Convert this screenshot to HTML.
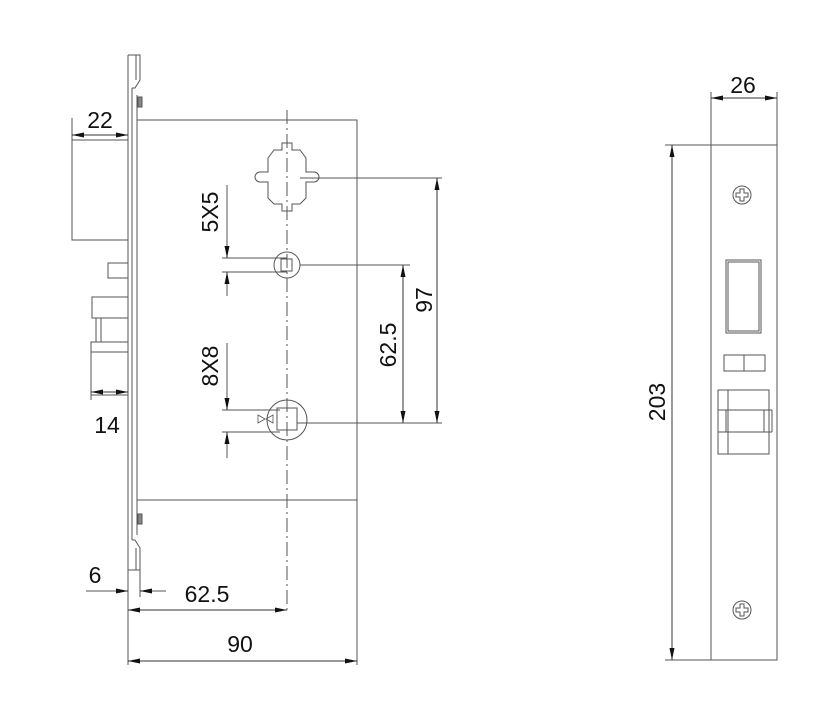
<!DOCTYPE html>
<html><head><style>html,body{margin:0;padding:0;background:#fff}svg{display:block}</style></head>
<body>
<svg width="824" height="711" viewBox="0 0 824 711" xmlns="http://www.w3.org/2000/svg" font-family="Liberation Sans, sans-serif" font-size="23" fill="none">
<defs>
<marker id="a" viewBox="0 0 12 6" refX="12" refY="3" markerWidth="12" markerHeight="6" orient="auto-start-reverse" markerUnits="userSpaceOnUse"><path d="M0,0.5 L12,3 L0,5.5 z" fill="#111"/></marker>
</defs>
<g stroke="#555" stroke-width="1">
<line x1="128" y1="55" x2="128" y2="570"/>
<line x1="132" y1="88" x2="132" y2="540"/>
<path d="M128,55 H140 V80 L135,88 H132"/>
<path d="M132,540 H135 L140,548 V570 H128"/>
<line x1="136" y1="55" x2="136" y2="80"/>
<line x1="136" y1="548" x2="136" y2="570"/>
<line x1="137" y1="95" x2="137" y2="535"/>
<rect x="138" y="97" width="4" height="10" fill="#888"/>
<rect x="138" y="514" width="4" height="10" fill="#888"/>
<rect x="137" y="120" width="220" height="380"/>
<rect x="72" y="140" width="56" height="100"/>
<rect x="108" y="263" width="20" height="15"/>
<rect x="92" y="297" width="36" height="21"/>
<line x1="96" y1="318" x2="96" y2="342"/><line x1="101" y1="318" x2="101" y2="342"/>
<rect x="91" y="342" width="37" height="53"/>
<line x1="91" y1="352" x2="128" y2="352"/>
<line x1="287" y1="110" x2="287" y2="612" stroke-dasharray="14,4,2,4"/>
<path d="M282,143 H292 V150 H300 L306,158 V172 H314 A4,4 0 0 1 314,182 H306 V198 L300,204 H292 V211 H282 V204 H274 L268,198 V182 H260 A4,4 0 0 1 260,172 H268 V158 L274,150 H282 Z"/>
<circle cx="287" cy="265" r="13"/>
<rect x="281" y="259" width="11" height="12"/>
<circle cx="287" cy="420" r="20"/>
<rect x="277" y="408" width="20" height="22"/>
<path d="M258,415 L265,419 L258,423 Z M273,415 L266,419 L273,423 Z" stroke-width="0.8"/>
<line x1="72" y1="118" x2="72" y2="140"/>
<line x1="91" y1="380" x2="91" y2="400"/>
<line x1="300" y1="178" x2="442" y2="178"/>
<line x1="300" y1="265" x2="410" y2="265"/>
<line x1="297" y1="423" x2="442" y2="423"/>
<line x1="222" y1="258" x2="287" y2="258"/>
<line x1="222" y1="272" x2="287" y2="272"/>
<line x1="222" y1="410" x2="280" y2="410"/>
<line x1="222" y1="432" x2="280" y2="432"/>
<line x1="227" y1="185" x2="227" y2="246"/>
<line x1="227" y1="284" x2="227" y2="296"/>
<line x1="227" y1="343" x2="227" y2="398"/>
<line x1="227" y1="444" x2="227" y2="458"/>
<line x1="128" y1="570" x2="128" y2="665"/>
<line x1="140" y1="570" x2="140" y2="597"/>
<line x1="357" y1="500" x2="357" y2="665"/>
<line x1="86" y1="591" x2="116" y2="591"/>
<line x1="152" y1="591" x2="166" y2="591"/>
</g>
<g stroke="#333" stroke-width="1">
<line x1="72" y1="135" x2="128" y2="135" marker-start="url(#a)" marker-end="url(#a)"/>
<line x1="91" y1="392" x2="128" y2="392" marker-start="url(#a)" marker-end="url(#a)"/>
<line x1="116" y1="591" x2="128" y2="591" marker-end="url(#a)"/>
<line x1="152" y1="591" x2="140" y2="591" marker-end="url(#a)"/>
<line x1="128" y1="610" x2="287" y2="610" marker-start="url(#a)" marker-end="url(#a)"/>
<line x1="128" y1="661" x2="357" y2="661" marker-start="url(#a)" marker-end="url(#a)"/>
<line x1="437" y1="178" x2="437" y2="423" marker-start="url(#a)" marker-end="url(#a)"/>
<line x1="403" y1="265" x2="403" y2="423" marker-start="url(#a)" marker-end="url(#a)"/>
<line x1="227" y1="246" x2="227" y2="258" marker-end="url(#a)"/>
<line x1="227" y1="284" x2="227" y2="272" marker-end="url(#a)"/>
<line x1="227" y1="398" x2="227" y2="410" marker-end="url(#a)"/>
<line x1="227" y1="444" x2="227" y2="432" marker-end="url(#a)"/>
</g>
<g fill="#111" stroke="none">
<text x="100" y="128" text-anchor="middle">22</text>
<text x="107" y="433" text-anchor="middle">14</text>
<text x="95" y="583" text-anchor="middle">6</text>
<text x="207" y="602" text-anchor="middle">62.5</text>
<text x="240" y="652" text-anchor="middle">90</text>
<text transform="translate(218,212) rotate(-90)" text-anchor="middle">5X5</text>
<text transform="translate(218,366) rotate(-90)" text-anchor="middle">8X8</text>
<text transform="translate(396,345) rotate(-90)" text-anchor="middle">62.5</text>
<text transform="translate(432,300) rotate(-90)" text-anchor="middle">97</text>
<text x="743" y="93" text-anchor="middle">26</text>
<text transform="translate(665,402) rotate(-90)" text-anchor="middle">203</text>
</g>
<g stroke="#555" stroke-width="1">
<rect x="711" y="145" width="66" height="515"/>
<line x1="711" y1="92" x2="711" y2="145"/>
<line x1="777" y1="92" x2="777" y2="145"/>
<line x1="665" y1="145" x2="711" y2="145"/>
<line x1="665" y1="660" x2="711" y2="660"/>
<circle cx="742" cy="195" r="9"/>
<path d="M740,189 h4 v4 h4 v4 h-4 v4 h-4 v-4 h-4 v-4 h4 z"/>
<circle cx="742" cy="610" r="9"/>
<path d="M740,604 h4 v4 h4 v4 h-4 v4 h-4 v-4 h-4 v-4 h4 z"/>
<rect x="726" y="260" width="35" height="73"/>
<rect x="728" y="262" width="31" height="69"/>
<rect x="724" y="355" width="41" height="16"/>
<line x1="744" y1="355" x2="744" y2="371"/>
<rect x="718" y="390" width="51" height="64"/>
<line x1="728" y1="390" x2="728" y2="454"/>
<line x1="718" y1="410" x2="772" y2="410"/>
<line x1="718" y1="432" x2="772" y2="432"/>
<line x1="772" y1="410" x2="772" y2="432"/>
<line x1="764" y1="410" x2="764" y2="432"/>
<line x1="726" y1="410" x2="726" y2="432"/>
</g>
<g stroke="#333" stroke-width="1">
<line x1="711" y1="98" x2="777" y2="98" marker-start="url(#a)" marker-end="url(#a)"/>
<line x1="672" y1="145" x2="672" y2="660" marker-start="url(#a)" marker-end="url(#a)"/>
</g>
</svg>
</body></html>
